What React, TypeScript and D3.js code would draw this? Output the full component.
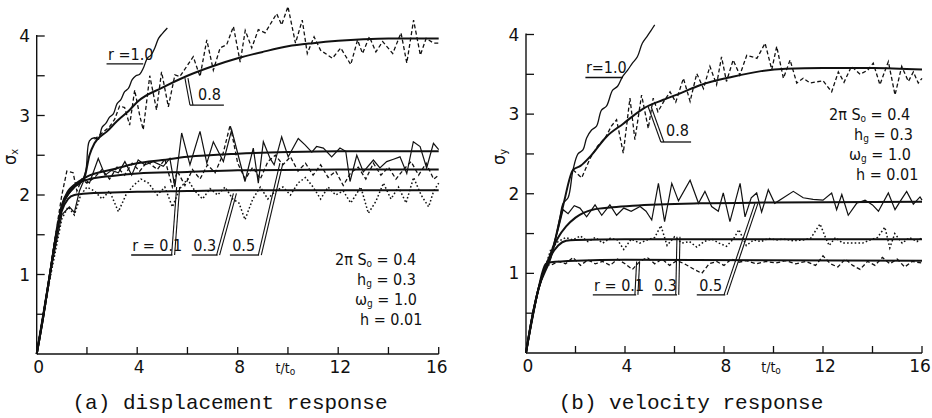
import React from 'react';
import * as d3 from 'd3';

type P = [number, number];

// ---- displacement response (a) ----
const dispSmooth01: P[] = [[0,0],[0.25,0.45],[0.5,0.95],[0.75,1.45],[1,1.8],[1.25,1.95],[1.5,2.0],[2,2.02],[3,2.03],[4,2.04],[6,2.05],[8,2.06],[12,2.06],[16,2.06]];
const dispSmooth03: P[] = [[0,0],[0.25,0.45],[0.5,0.95],[0.75,1.45],[1,1.85],[1.25,2.03],[1.5,2.12],[2,2.19],[3,2.24],[4,2.27],[6,2.29],[8,2.31],[12,2.32],[16,2.32]];
const dispSmooth05: P[] = [[0,0],[0.25,0.45],[0.5,0.95],[0.75,1.45],[1,1.87],[1.25,2.05],[1.5,2.13],[2,2.23],[3,2.32],[4,2.4],[5,2.44],[6,2.48],[8,2.52],[10,2.54],[12,2.55],[16,2.55]];
const dispSmooth08: P[] = [[0,0],[0.5,0.95],[1,1.85],[1.5,2.1],[1.9,2.22],[2.1,2.5],[2.3,2.65],[2.8,2.8],[3.2,2.93],[3.7,3.07],[4,3.17],[5,3.35],[6,3.5],[7,3.62],[8,3.72],[9,3.8],[10,3.87],[11,3.91],[12,3.94],[13,3.96],[14,3.97],[16,3.97]];
const dispR10: P[] = [[0,0],[0.25,0.45],[0.5,0.95],[0.75,1.45],[1,1.85],[1.25,2.0],[1.5,2.1],[1.75,2.15],[1.95,2.3],[2.1,2.68],[2.3,2.72],[2.45,2.7],[2.6,2.85],[2.75,2.9],[2.9,2.98],[3.05,3.02],[3.2,3.15],[3.35,3.2],[3.5,3.3],[3.65,3.34],[3.8,3.45],[3.95,3.5],[4.1,3.52],[4.25,3.6],[4.4,3.72],[4.55,3.76],[4.7,3.85],[4.85,3.97],[5.0,4.03],[5.2,4.1]];
const dispSim08: P[] = [[2.3,2.7],[2.6,2.78],[2.9,2.86],[3.1,2.95],[3.3,3.12],[3.5,3.1],[3.7,2.88],[3.9,3.32],[4.1,3.0],[4.24,2.82],[4.5,3.5],[4.77,3.07],[4.97,3.55],[5.24,3.11],[5.5,3.51],[5.7,3.49],[6.23,3.74],[6.5,3.49],[6.77,3.95],[7.03,3.57],[7.3,3.85],[7.56,3.89],[7.83,4.12],[8.1,3.67],[8.3,4.07],[8.56,3.85],[8.82,4.08],[9.09,4.04],[9.55,4.28],[9.75,4.14],[10.0,4.37],[10.3,3.91],[10.57,4.2],[10.77,3.78],[11.04,3.99],[11.3,3.82],[11.77,3.72],[12.1,3.85],[12.5,3.64],[12.77,3.95],[12.97,3.78],[13.24,3.99],[13.5,3.8],[13.77,3.93],[14.17,3.78],[14.5,4.04],[14.73,3.66],[15.0,4.2],[15.27,3.76],[15.5,3.97],[15.8,3.91],[16,3.91]];
const dispSim05: P[] = [[0,0],[0.5,0.95],[1,1.75],[1.3,1.85],[1.5,1.78],[1.7,2.05],[1.9,2.2],[2.1,2.15],[2.45,2.46],[2.72,2.25],[2.98,2.31],[3.25,2.28],[3.51,2.42],[3.78,2.25],[4.04,2.44],[4.3,2.38],[4.64,2.42],[5.04,2.36],[5.3,2.46],[5.5,2.1],[5.77,2.78],[6.1,2.38],[6.5,2.8],[6.77,2.4],[7.03,2.67],[7.43,2.42],[7.76,2.82],[8.02,2.5],[8.29,2.17],[8.62,2.59],[8.82,2.15],[9.02,2.67],[9.29,2.46],[9.45,2.38],[9.75,2.73],[10.01,2.48],[10.41,2.71],[10.68,2.63],[10.95,2.54],[11.14,2.61],[11.41,2.59],[11.74,2.48],[12.07,2.59],[12.3,2.55],[12.47,2.17],[12.74,2.5],[13.0,2.29],[13.4,2.44],[13.66,2.34],[13.93,2.42],[14.2,2.45],[14.46,2.48],[14.73,2.27],[14.99,2.67],[15.26,2.61],[15.52,2.34],[15.79,2.65],[16,2.57]];
const dispSim03: P[] = [[0,0],[0.5,0.95],[0.75,1.5],[1,2.0],[1.2,2.3],[1.45,2.28],[1.6,2.05],[1.8,2.2],[2.0,2.15],[2.3,2.22],[2.6,2.32],[2.9,2.2],[3.2,2.35],[3.5,2.25],[3.8,2.4],[4.1,2.3],[4.4,2.42],[4.8,2.32],[5.1,2.45],[5.4,2.1],[5.6,2.3],[5.9,2.12],[6.2,2.32],[6.5,2.2],[6.8,2.38],[7.1,2.28],[7.4,2.5],[7.7,2.88],[8.0,2.4],[8.3,2.2],[8.6,2.35],[8.9,2.2],[9.2,2.42],[9.5,2.5],[9.8,2.38],[10.1,2.48],[10.4,2.3],[10.7,2.4],[11.0,2.25],[11.3,2.38],[11.6,2.22],[11.9,2.3],[12.2,2.12],[12.5,2.28],[12.8,2.35],[13.1,2.2],[13.4,2.4],[13.7,2.25],[14.0,2.35],[14.3,2.2],[14.6,2.32],[14.9,2.42],[15.2,2.25],[15.5,2.4],[15.8,2.2],[16,2.25]];
const dispSim01: P[] = [[0,0],[0.5,0.9],[1,1.7],[1.25,1.85],[1.5,1.75],[1.75,2.0],[2.0,2.1],[2.3,2.05],[2.6,1.95],[2.9,2.05],[3.25,1.79],[3.55,2.0],[3.85,2.12],[4.15,2.2],[4.45,2.15],[4.8,2.0],[5.1,2.1],[5.4,1.85],[5.7,2.08],[6.0,2.2],[6.3,2.05],[6.6,1.95],[6.9,2.08],[7.2,2.0],[7.5,2.1],[7.8,1.95],[8.05,1.9],[8.29,1.69],[8.6,1.95],[8.9,2.1],[9.2,1.95],[9.5,2.05],[9.8,2.1],[10.1,2.0],[10.4,2.15],[10.7,2.22],[11.0,2.1],[11.3,1.95],[11.6,2.1],[11.9,2.0],[12.2,2.05],[12.5,1.9],[12.9,2.1],[13.2,1.77],[13.5,1.92],[13.8,2.15],[14.1,1.95],[14.4,2.1],[14.7,1.9],[15.0,2.22],[15.3,2.0],[15.6,1.85],[15.8,2.05],[16,2.15]];

// ---- velocity response (b) ----
const velSmooth01: P[] = [[0,0],[0.25,0.45],[0.5,0.8],[0.65,1.0],[0.8,1.12],[1,1.14],[2,1.16],[4,1.17],[16,1.16]];
const velSmooth03: P[] = [[0,0],[0.25,0.45],[0.5,0.8],[0.75,1.05],[1,1.22],[1.3,1.35],[1.62,1.41],[2,1.42],[4,1.43],[16,1.43]];
const velSmooth05: P[] = [[0,0],[0.25,0.45],[0.5,0.8],[0.75,1.05],[1,1.25],[1.3,1.45],[1.62,1.59],[2,1.7],[2.69,1.8],[3.5,1.83],[4.31,1.85],[7,1.88],[10,1.89],[16,1.9]];
const velSmooth08: P[] = [[0,0],[0.5,0.8],[1,1.2],[1.5,1.85],[1.9,2.3],[2.2,2.35],[2.6,2.47],[3.26,2.72],[3.93,2.88],[4.74,3.07],[5.55,3.18],[6.3,3.27],[7,3.36],[8.35,3.47],[9.5,3.54],[10.5,3.57],[12,3.58],[14,3.58],[16,3.56]];
const velR10: P[] = [[0,0],[0.25,0.45],[0.5,0.8],[0.75,1.05],[1.0,1.2],[1.2,1.45],[1.37,1.7],[1.5,1.88],[1.7,1.95],[1.9,2.3],[2.1,2.5],[2.3,2.55],[2.45,2.7],[2.65,2.8],[2.85,2.85],[3.05,3.05],[3.25,3.1],[3.5,3.3],[3.7,3.35],[3.9,3.47],[4.1,3.55],[4.3,3.64],[4.5,3.72],[4.7,3.89],[4.9,3.98],[5.05,4.05],[5.2,4.12]];
const velSim08: P[] = [[1.9,2.3],[2.25,2.2],[2.6,2.45],[2.9,2.6],[3.2,2.7],[3.45,2.85],[3.66,2.93],[3.93,2.51],[4.2,3.2],[4.4,2.68],[4.67,3.24],[4.94,2.82],[5.14,3.2],[5.33,3.03],[5.55,3.15],[5.82,3.28],[6.05,3.15],[6.36,3.45],[6.63,3.16],[6.9,3.51],[7.17,3.32],[7.43,3.6],[7.7,3.37],[7.9,3.72],[8.1,3.41],[8.37,3.68],[8.64,3.49],[8.92,3.74],[9.33,3.7],[9.66,3.89],[9.93,3.56],[10.13,3.85],[10.4,3.45],[10.67,3.68],[10.94,3.39],[11.2,3.45],[11.48,3.39],[12.0,3.42],[12.35,3.28],[12.62,3.53],[12.85,3.4],[13.15,3.6],[13.5,3.5],[13.8,3.55],[14.03,3.64],[14.3,3.37],[14.64,3.66],[14.91,3.24],[15.18,3.6],[15.45,3.41],[15.65,3.53],[15.85,3.39],[16,3.45]];
const velSim05: P[] = [[0,0],[0.5,0.8],[1,1.25],[1.3,1.55],[1.5,1.8],[1.7,1.75],[1.95,1.85],[2.18,1.82],[2.45,1.71],[2.79,1.86],[3.06,1.73],[3.39,1.86],[3.66,1.73],[3.95,1.82],[4.25,1.78],[4.61,1.84],[4.85,1.78],[5.08,1.67],[5.35,2.13],[5.6,1.65],[5.89,2.13],[6.16,1.91],[6.63,2.17],[6.97,1.88],[7.23,2.03],[7.5,1.84],[7.77,1.78],[7.97,2.01],[8.24,1.65],[8.65,2.13],[8.85,1.71],[9.1,1.95],[9.32,2.01],[9.52,1.77],[9.79,2.05],[10.05,1.88],[10.4,1.95],[10.8,2.03],[11.2,1.95],[11.6,1.93],[12.0,1.92],[12.35,2.01],[12.55,1.8],[12.76,1.99],[13.02,1.73],[13.36,1.88],[13.7,1.92],[14.0,1.86],[14.24,1.78],[14.64,2.01],[14.91,1.8],[15.15,1.92],[15.38,2.03],[15.65,1.87],[15.92,1.96],[16,1.92]];
const velSim03: P[] = [[0.75,1.05],[1,1.3],[1.3,1.4],[1.6,1.45],[1.9,1.42],[2.2,1.47],[2.5,1.4],[2.8,1.45],[3.1,1.38],[3.4,1.44],[3.7,1.42],[3.95,1.3],[4.25,1.43],[4.6,1.38],[4.9,1.42],[5.2,1.45],[5.45,1.6],[5.7,1.35],[6.0,1.46],[6.3,1.38],[6.6,1.4],[6.9,1.33],[7.2,1.4],[7.5,1.43],[7.8,1.38],[8.1,1.34],[8.4,1.44],[8.6,1.55],[8.9,1.35],[9.2,1.42],[9.5,1.4],[9.8,1.44],[10.1,1.42],[10.4,1.43],[10.8,1.41],[11.2,1.42],[11.5,1.44],[11.88,1.62],[12.1,1.45],[12.25,1.35],[12.5,1.45],[12.8,1.38],[13.2,1.38],[13.6,1.38],[13.9,1.42],[14.2,1.45],[14.5,1.58],[14.7,1.32],[14.9,1.5],[15.2,1.38],[15.5,1.45],[15.8,1.4],[16,1.45]];
const velSim01: P[] = [[0.8,1.12],[1.0,1.1],[1.3,1.15],[1.6,1.12],[1.9,1.2],[2.2,1.1],[2.5,1.17],[2.8,1.12],[3.1,1.15],[3.4,1.1],[3.7,1.18],[4.0,1.12],[4.3,1.05],[4.6,1.15],[4.9,1.2],[5.2,1.12],[5.5,1.18],[5.8,1.1],[6.1,1.16],[6.4,1.12],[6.8,1.05],[7.1,1.0],[7.4,1.12],[7.7,1.15],[8.0,1.1],[8.3,1.18],[8.6,1.14],[8.9,1.16],[9.3,1.12],[9.7,1.15],[10.1,1.13],[10.5,1.16],[10.9,1.12],[11.3,1.15],[11.7,1.1],[12.0,1.22],[12.3,1.12],[12.6,1.08],[12.9,1.18],[13.2,1.1],[13.5,1.05],[13.8,1.15],[14.1,1.1],[14.4,1.2],[14.7,1.12],[15.0,1.18],[15.3,1.08],[15.6,1.15],[16,1.13]];

// axis ticks
const xTickLabels = [0, 4, 8, 12, 16];
const yTickLabels = [1, 2, 3, 4];

const LABEL_FONT = "'Liberation Sans Narrow', 'DejaVu Sans Condensed', 'Liberation Sans', sans-serif";
const TICK_FONT = "'DejaVu Sans', sans-serif";

type Ann = { text: string; t: number; s: number; u0: number; u1: number; us: number; lead?: [number, number, number, number] };

type PanelProps = {
  x0: number; x1: number; y0: number; y4: number;
  smooth: P[][]; r10: P[]; simSolid: P[][]; simDash: P[][]; simDot: P[][];
  anns: Ann[]; yVar: string; params: { x: number; y: number }[]; caption: string; captionX: number;
};

const Panel = (p: PanelProps) => {
  const x = d3.scaleLinear().domain([0, 16]).range([p.x0, p.x1]);
  const y = d3.scaleLinear().domain([0, 4]).range([p.y0, p.y4]);
  const line = d3.line<P>().x(d => x(d[0])).y(d => y(d[1]));
  const smoothLine = d3.line<P>().x(d => x(d[0])).y(d => y(d[1])).curve(d3.curveMonotoneX);
  const waveLine = d3.line<P>().x(d => x(d[0])).y(d => y(d[1])).curve(d3.curveCatmullRom);
  const pf = 16;

  return (
    <g>
      {/* axes */}
      <line x1={x(0)} x2={x(0)} y1={y(0)} y2={y(4) - 1} stroke="#111" strokeWidth={1.4} />
      <line x1={x(0)} x2={x(16)} y1={y(0)} y2={y(0)} stroke="#111" strokeWidth={1.4} />
      {d3.range(0.5, 4.01, 0.5).map(v => (
        <line key={'yt' + v} x1={x(0)} x2={x(0) + 8} y1={y(v)} y2={y(v)} stroke="#111" strokeWidth={1.3} />
      ))}
      {d3.range(2, 16.01, 2).map(v => (
        <line key={'xt' + v} x1={x(v)} x2={x(v)} y1={y(0)} y2={y(0) - 7} stroke="#111" strokeWidth={1.3} />
      ))}
      {xTickLabels.map(v => (
        <text key={'xl' + v} x={x(v) + (v === 16 ? -2 : 2)} y={y(0) + 19} textAnchor="middle" fontFamily={TICK_FONT} fontSize={17} fill="#111">{v}</text>
      ))}
      {yTickLabels.map(v => (
        <text key={'yl' + v} x={x(0) - 12} y={y(v) + 6} textAnchor="middle" fontFamily={TICK_FONT} fontSize={17} fill="#111">{v}</text>
      ))}
      <text x={x(9.9)} y={y(0) + 19} textAnchor="middle" fontFamily={LABEL_FONT} fontSize={14} fill="#111">
        t/t<tspan fontSize={10} dy={2}>o</tspan>
      </text>
      <text transform={`translate(${x(0) - 21},157) rotate(-90)`} textAnchor="middle" fontFamily={LABEL_FONT} fontSize={18} fill="#111">
        σ<tspan fontSize={11} dy={2}>{p.yVar}</tspan>
      </text>

      {/* curves */}
      {p.simDot.map((d, i) => <path key={'dt' + i} d={line(d) || ''} fill="none" stroke="#111" strokeWidth={1.5} strokeDasharray="1.6,2.2" />)}
      {p.simDash.map((d, i) => <path key={'ds' + i} d={line(d) || ''} fill="none" stroke="#111" strokeWidth={1.3} strokeDasharray="4,2.5" />)}
      {p.simSolid.map((d, i) => <path key={'so' + i} d={line(d) || ''} fill="none" stroke="#111" strokeWidth={1.2} />)}
      {p.smooth.map((d, i) => <path key={'sm' + i} d={smoothLine(d) || ''} fill="none" stroke="#111" strokeWidth={2} />)}
      <path d={waveLine(p.r10) || ''} fill="none" stroke="#111" strokeWidth={1.3} />

      {/* annotations */}
      {p.anns.map((a, i) => (
        <g key={'an' + i}>
          <text x={x(a.t)} y={y(a.s)} fontFamily={LABEL_FONT} fontSize={pf} fill="#111">{a.text}</text>
          <line x1={x(a.u0)} x2={x(a.u1)} y1={y(a.us)} y2={y(a.us)} stroke="#111" strokeWidth={1.3} />
          {a.lead && [0, 3].map(o => (
            <line key={o} x1={x(a.lead![0]) + o} y1={y(a.lead![1])} x2={x(a.lead![2]) + o} y2={y(a.lead![3])} stroke="#111" strokeWidth={1.1} />
          ))}
        </g>
      ))}

      {/* parameters */}
      <text x={p.params[0].x} y={p.params[0].y} fontFamily={LABEL_FONT} fontSize={pf} fill="#111">
        2π S<tspan fontSize={10} dy={2}>o</tspan><tspan dy={-2}> = 0.4</tspan>
      </text>
      <text x={p.params[1].x} y={p.params[1].y} fontFamily={LABEL_FONT} fontSize={pf} fill="#111">
        h<tspan fontSize={10} dy={2}>g</tspan><tspan dy={-2}> = 0.3</tspan>
      </text>
      <text x={p.params[2].x} y={p.params[2].y} fontFamily={LABEL_FONT} fontSize={pf} fill="#111">
        ω<tspan fontSize={10} dy={2}>g</tspan><tspan dy={-2}> = 1.0</tspan>
      </text>
      <text x={p.params[3].x} y={p.params[3].y} fontFamily={LABEL_FONT} fontSize={pf} fill="#111">h = 0.01</text>

      <text x={p.captionX} y={409} textAnchor="middle" fontFamily="'Liberation Mono', 'DejaVu Sans Mono', monospace" fontSize={21} fill="#111">{p.caption}</text>
    </g>
  );
};

export default function App() {
  const dispAnns: Ann[] = [
    { text: 'r =1.0', t: 2.84, s: 3.7, u0: 2.78, u1: 4.24, us: 3.65 },
    { text: '0.8', t: 6.42, s: 3.2, u0: 6.1, u1: 7.45, us: 3.13, lead: [6.1, 3.13, 5.9, 3.47] },
    { text: 'r = 0.1', t: 3.8, s: 1.3, u0: 3.76, u1: 5.4, us: 1.245, lead: [5.37, 1.245, 5.57, 2.1] },
    { text: '0.3', t: 6.23, s: 1.3, u0: 6.17, u1: 7.2, us: 1.245, lead: [7.16, 1.245, 7.83, 2.02] },
    { text: '0.5', t: 7.78, s: 1.3, u0: 7.69, u1: 8.85, us: 1.245, lead: [8.82, 1.245, 9.68, 2.4] },
  ];
  const velAnns: Ann[] = [
    { text: 'r=1.0', t: 2.42, s: 3.52, u0: 2.4, u1: 3.92, us: 3.46 },
    { text: '0.8', t: 5.66, s: 2.72, u0: 5.45, u1: 6.67, us: 2.65, lead: [5.45, 2.65, 4.94, 3.09] },
    { text: 'r = 0.1', t: 2.75, s: 0.78, u0: 2.7, u1: 4.45, us: 0.73, lead: [4.4, 0.73, 4.47, 1.15] },
    { text: '0.3', t: 5.17, s: 0.78, u0: 5.1, u1: 6.1, us: 0.73, lead: [6.05, 0.73, 6.1, 1.46] },
    { text: '0.5', t: 7.0, s: 0.78, u0: 6.9, u1: 8.05, us: 0.73, lead: [8.0, 0.73, 9.25, 1.88] },
  ];
  return (
    <svg width={932} height={418} style={{ position: 'absolute', left: 0, top: 0, background: '#fff' }}>
      <rect width={932} height={418} fill="#fff" />
      <Panel x0={36.7} x1={438.7} y0={354} y4={36}
        smooth={[dispSmooth01, dispSmooth03, dispSmooth05, dispSmooth08]} r10={dispR10}
        simSolid={[dispSim05]} simDash={[dispSim03, dispSim08]} simDot={[dispSim01]}
        anns={dispAnns} yVar="x"
        params={[{ x: 335, y: 265 }, { x: 357, y: 285 }, { x: 355, y: 305 }, { x: 360, y: 325 }]}
        caption="(a) displacement response" captionX={230} />
      <Panel x0={526} x1={922} y0={353} y4={34.5}
        smooth={[velSmooth01, velSmooth03, velSmooth05, velSmooth08]} r10={velR10}
        simSolid={[velSim05]} simDash={[velSim01, velSim08]} simDot={[velSim03]}
        anns={velAnns} yVar="y"
        params={[{ x: 829, y: 120 }, { x: 854, y: 140 }, { x: 849, y: 160 }, { x: 856, y: 180 }]}
        caption="(b) velocity response" captionX={691} />
    </svg>
  );
}
